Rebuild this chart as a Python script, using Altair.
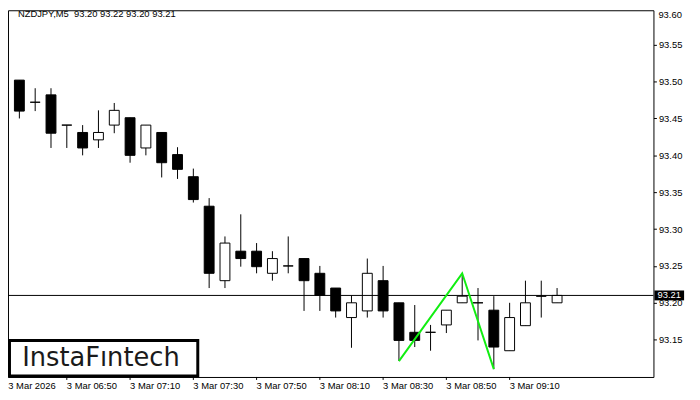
import altair as alt
import pandas as pd

# ---- data ----
bar_index = list(range(36))
opens = [93.491, 93.502, 93.472, 93.482, 93.441, 93.431, 93.421, 93.441, 93.451, 93.410,
         93.431, 93.401, 93.371, 93.331, 93.230, 93.270, 93.270, 93.240, 93.250, 93.260,
         93.240, 93.220, 93.180, 93.189, 93.230, 93.200, 93.160, 93.160, 93.170, 93.200,
         93.200, 93.190, 93.135, 93.169, 93.209, 93.200]
highs = [93.502, 93.502, 93.491, 93.491, 93.441, 93.441, 93.461, 93.471, 93.451, 93.441,
         93.431, 93.411, 93.382, 93.342, 93.290, 93.320, 93.281, 93.270, 93.290, 93.260,
         93.250, 93.220, 93.210, 93.260, 93.250, 93.200, 93.197, 93.170, 93.190, 93.240,
         93.220, 93.209, 93.200, 93.230, 93.230, 93.220]
lows = [93.473, 93.450, 93.460, 93.410, 93.410, 93.400, 93.410, 93.430, 93.390, 93.400,
        93.370, 93.368, 93.336, 93.220, 93.220, 93.249, 93.240, 93.230, 93.240, 93.189,
        93.189, 93.180, 93.139, 93.180, 93.180, 93.121, 93.140, 93.135, 93.159, 93.200,
        93.149, 93.110, 93.135, 93.169, 93.180, 93.200]
closes = [93.491, 93.460, 93.472, 93.430, 93.441, 93.410, 93.431, 93.461, 93.400, 93.441,
          93.390, 93.381, 93.340, 93.240, 93.281, 93.260, 93.249, 93.260, 93.250, 93.230,
          93.210, 93.189, 93.200, 93.240, 93.189, 93.149, 93.149, 93.160, 93.190, 93.209,
          93.200, 93.140, 93.180, 93.200, 93.209, 93.210]

tick_index = [0, 4, 8, 12, 16, 20, 24, 28, 32]
tick_labels = ["3 Mar 2026", "3 Mar 06:50", "3 Mar 07:10", "3 Mar 07:30", "3 Mar 07:50",
               "3 Mar 08:10", "3 Mar 08:30", "3 Mar 08:50", "3 Mar 09:10"]
price_ticks = [93.15, 93.20, 93.25, 93.30, 93.35, 93.40, 93.45, 93.50, 93.55]
top_price_label = "93.60"

pattern_index = [25, 29, 31]
pattern_price = [93.121, 93.240, 93.110]

last_price = 93.21
title_text = "NZDJPY,M5\u00a0 93.20 93.22 93.20 93.21"
watermark = "InstaF\u0131ntech"

# ---- tables ----
candles = pd.DataFrame({"i": bar_index, "o": opens, "h": highs, "l": lows, "c": closes})
ticks = pd.DataFrame({"i": tick_index, "t": tick_labels})
pattern = pd.DataFrame({"i": pattern_index, "p": pattern_price})
last = pd.DataFrame({"p": [last_price], "t": [f"{last_price:.2f}"]})
one = pd.DataFrame({"k": [0]})

W, H = 653, 371
FONT = "Liberation Sans"
FS = 9.5

xs = alt.Scale(domain=[0.28125, 41.09375], nice=False, zero=False, padding=0)
ys = alt.Scale(domain=[93.09941, 93.59673], nice=False, zero=False, padding=0)

yaxis = alt.Axis(orient="right", values=price_ticks, format=".2f", tickSize=3,
                 tickColor="black", labelColor="black", labelFont=FONT,
                 labelFontSize=FS, labelPadding=2, domain=False, grid=False,
                 title=None, labelOverlap=False, labelFlush=False)


def Y(field):
    return alt.Y(field, scale=ys, title=None)


def X(field):
    return alt.X(field, scale=xs, axis=None)


frame = alt.Chart(one).mark_rect(fill=None, stroke="black", strokeWidth=1).encode(
    x=alt.value(0.5), x2=alt.value(653.5), y=alt.value(0.5), y2=alt.value(371.5))

wicks = alt.Chart(candles).mark_rule(color="black", strokeWidth=1).encode(
    x=X("i:Q"),
    y=alt.Y("l:Q", scale=ys, axis=yaxis, title=None),
    y2="h:Q")

bodies = alt.Chart(candles).mark_bar(size=10, stroke="black", strokeWidth=1).encode(
    x=X("i:Q"),
    y=Y("o:Q"),
    y2="c:Q",
    fill=alt.condition("datum.c >= datum.o", alt.value("white"), alt.value("black")))

price_line = alt.Chart(last).mark_rule(color="black", strokeWidth=1).encode(y=Y("p:Q"))

pattern_line = alt.Chart(pattern).mark_line(color="#11ee11", strokeWidth=2).encode(
    x=X("i:Q"), y=Y("p:Q"))

tag = alt.Chart(last).mark_rule(color="black", strokeWidth=10, strokeCap="butt").encode(
    y=Y("p:Q"), x=alt.value(654), x2=alt.value(684))

tag_text = alt.Chart(last).mark_text(color="white", font=FONT, fontSize=FS,
                                     align="center", baseline="middle").encode(
    y=Y("p:Q"), x=alt.value(669), text="t:N")

top_label = alt.Chart(one).mark_text(color="black", font=FONT, fontSize=FS,
                                     align="left", baseline="middle").encode(
    x=alt.value(658), y=alt.value(4.5), text=alt.value(top_price_label))

x_ticks = alt.Chart(ticks).mark_rule(color="black", strokeWidth=1).encode(
    x=X("i:Q"), y=alt.value(371), y2=alt.value(374))

x_labels = alt.Chart(ticks).transform_calculate(xl="max(datum.i, 0.3)").mark_text(
    color="black", font=FONT, fontSize=FS, align="left", baseline="middle").encode(
    x=X("xl:Q"), y=alt.value(380), text="t:N")

title = alt.Chart(one).mark_text(color="black", font=FONT, fontSize=FS,
                                 align="left", baseline="middle").encode(
    x=alt.value(10), y=alt.value(4), text=alt.value(title_text))

wm_box = alt.Chart(one).mark_rect(fill="white", stroke="black", strokeWidth=3).encode(
    x=alt.value(1.5), x2=alt.value(192), y=alt.value(334), y2=alt.value(370))

wm_text = alt.Chart(one).mark_text(color="#1a1a1a", font="DejaVu Sans", fontSize=26,
                                   align="center", baseline="alphabetic").encode(
    x=alt.value(94), y=alt.value(360), text=alt.value(watermark))

chart = alt.layer(
    frame, wicks, bodies, price_line, pattern_line, tag, tag_text, top_label,
    x_ticks, x_labels, title, wm_box, wm_text
).properties(
    width=W, height=H,
    autosize=alt.AutoSizeParams(type="none"),
    padding={"left": 0, "top": 0, "right": 39, "bottom": 21},
    background="white",
).configure_view(stroke=None)

chart.save("out.html", embed_options={"renderer": "svg", "actions": False})
